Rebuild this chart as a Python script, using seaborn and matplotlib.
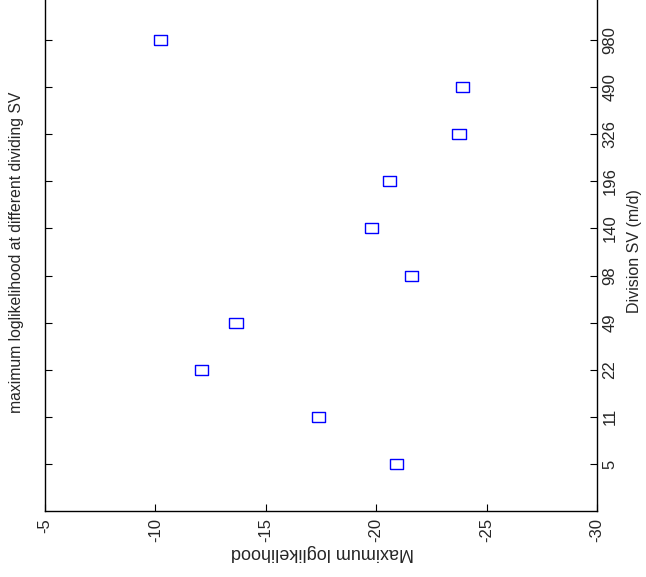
import matplotlib
matplotlib.use("Agg")
import matplotlib.pyplot as plt
import seaborn as sns
import numpy as np
import pandas as pd

divisions = ["5", "11", "22", "49", "98", "140", "196", "326", "490", "980"]
loglik = [-20.9, -17.4, -12.1, -13.65, -21.6, -19.8, -20.6, -23.75, -23.9, -10.25]
value_ticks = [-5, -10, -15, -20, -25, -30]

sns.set_theme(style="white")
plt.rcParams['font.family'] = ['Liberation Sans Narrow', 'Liberation Sans', 'DejaVu Sans']

df = pd.DataFrame({"division": divisions, "loglik": loglik,
                   "pos": np.arange(1, len(divisions) + 1)})

fig = plt.figure(figsize=(6.46, 5.77), dpi=100)
ax = fig.add_axes([45/646, 1 - 511/577, (597-45)/646, 518/577])

rect = [(-0.65, -0.5), (0.65, -0.5), (0.65, 0.5), (-0.65, 0.5), (-0.65, -0.5)]
sns.scatterplot(data=df, x="loglik", y="pos", ax=ax, marker=rect, s=88,
                facecolor="none", edgecolor="#0000ff", linewidth=1.0, legend=False)

ax.set_xlim(-5, -30)
ax.set_ylim(0, 11)
ax.set_xticks(value_ticks)
ax.set_xticklabels([str(v) for v in value_ticks], rotation=90, fontsize=12)
ax.set_yticks(df["pos"])
ax.set_yticklabels(divisions, rotation=90, va="center", fontsize=12)
ax.yaxis.tick_right()
ax.tick_params(axis="y", which="both", left=True, right=True, labelleft=False,
               labelright=True, direction="in", length=5, width=0.8, color="black", pad=4)
ax.tick_params(axis="x", which="both", bottom=True, top=False, direction="in",
               length=5, width=0.8, color="black", pad=5)
for sp in ax.spines.values():
    sp.set_color("black")
    sp.set_linewidth(1.0)
ax.set_xlabel("")
ax.set_ylabel("")

fig.text(322/646, 1 - 553/577, "Maximum loglikelihood", rotation=180,
         ha="center", va="center", fontsize=13)
fig.text(634/646, 1 - 251/577, "Division SV (m/d)", rotation=90,
         ha="center", va="center", fontsize=11.5)
fig.text(17/646, 1 - 252/577, "maximum loglikelihood at different dividing SV",
         rotation=90, ha="center", va="center", fontsize=11.3)

fig.savefig("out.png", dpi=100)
